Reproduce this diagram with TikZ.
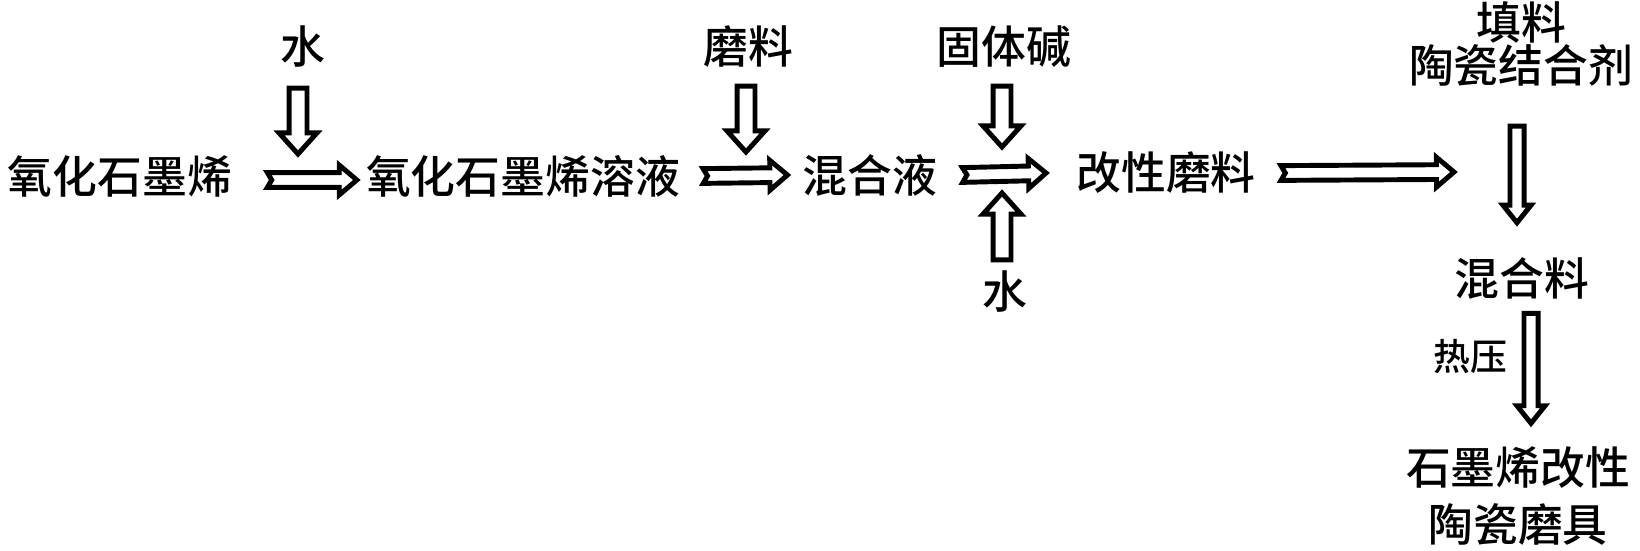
\documentclass[tikz,border=0pt]{standalone}
\usepackage{fontspec}
\newfontfamily\cjk{Noto Sans CJK SC Medium}
\usetikzlibrary{calc}

\begin{document}
\begin{tikzpicture}[x=0.02cm,y=-0.02cm,
  txt/.style={font=\cjk\fontsize{25.5}{25}\selectfont,inner sep=0pt,align=center},
  blk/.style args={#1/#2/#3/#4}{draw=black,fill=white,line width=2.8pt,line join=miter,
    to path={let \p1=(\tikztostart),\p2=(\tikztotarget),
      \n1={atan2(\y2-\y1,\x2-\x1)},\n2={veclen(\x2-\x1,\y2-\y1)} in
      {[shift={(\p1)},rotate=\n1]
        (0pt,#1) -- (\n2-#3,#1) -- (\n2-#3,#2) -- (\n2,0pt) -- (\n2-#3,-#2)
        -- (\n2-#3,-#1) -- (0pt,-#1) -- (#4,0pt) -- cycle}}},
  harr/.style={blk=4.2pt/8.5pt/10pt/2.5pt},
  varr/.style={blk=4pt/8pt/10pt/0pt},
  sarr/.style={blk=5.1pt/10.8pt/12pt/0pt}]
\useasboundingbox (0,0) rectangle (1640,551);
% main line
\node[txt] (go)  at (120,176)  {氧化石墨烯};
\node[txt] (gos) at (523,176)  {氧化石墨烯溶液};
\node[txt] (mix) at (870,175)  {混合液};
\node[txt] (mab) at (1166,173) {改性磨料};
% inputs
\node[txt] (w1)  at (303,47)   {水};
\node[txt] (ab)  at (748,47)   {磨料};
\node[txt] (sb)  at (1004,47)  {固体碱};
\node[txt] (w2)  at (1005,292) {水};
\node[txt] (fil) at (1521,44)  {填料\\陶瓷结合剂};
\node[txt] (mxl) at (1522,278) {混合料};
\node[txt,font=\cjk\fontsize{21}{25}\selectfont] (hp) at (1470,357) {热压};
\node[txt,font=\cjk\fontsize{25.5}{33}\selectfont] (prod) at (1518,496) {石墨烯改性\\陶瓷磨具};
\coordinate (d1) at (298,154);
\coordinate (d2) at (746,152);
\coordinate (d3) at (1002,147);
\coordinate (u1) at (1002,193);
\coordinate (fe) at (1454,172);
% flow
\draw[harr] ([xshift=0.7cm,yshift=-0.08cm]go.east) to ([xshift=-0.18cm,yshift=-0.08cm]gos.west);
\draw[harr] ([xshift=0.46cm]gos.east) to ([xshift=-0.3cm]mix.west);
\draw[harr] ([xshift=0.5cm]mix.east) to ([xshift=-0.6cm]mab.west);
\draw[harr] ([xshift=0.5cm]mab.east) to (fe);
\draw[sarr] ([xshift=-0.1cm,yshift=-0.4cm]w1.south) to (d1);
\draw[sarr] ([xshift=-0.04cm,yshift=-0.36cm]ab.south) to (d2);
\draw[sarr] ([xshift=-0.04cm,yshift=-0.36cm]sb.south) to (d3);
\draw[sarr] ([xshift=-0.06cm,yshift=0.22cm]w2.north) to (u1);
\draw[varr] ([xshift=-0.08cm,yshift=-0.78cm]fil.south) to ([xshift=-0.1cm,yshift=0.68cm]mxl.north);
\draw[varr] ([xshift=0.18cm,yshift=-0.28cm]mxl.south) to ([xshift=0.26cm,yshift=0.45cm]prod.north);
\end{tikzpicture}
\end{document}
